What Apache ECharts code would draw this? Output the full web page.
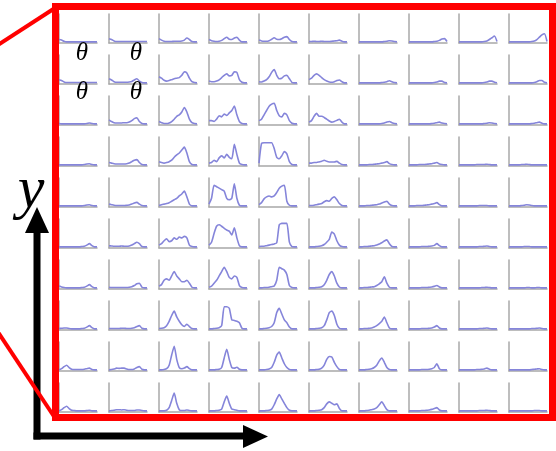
<!DOCTYPE html>
<html>
<head>
<meta charset="utf-8">
<script src="https://cdn.jsdelivr.net/npm/echarts@6.0.0/dist/echarts.min.js"></script>
<style>
  html, body { margin: 0; padding: 0; background: #fff; }
  #chart { width: 556px; height: 451px; }
</style>
</head>
<body>
<div id="chart"></div>
<script>
// theta bins shared by every small histogram
const bins = [0, 1, 2, 3, 4, 5, 6, 7, 8, 9, 10, 11, 12, 13, 14, 15]

// one array per grid row (top to bottom), ten cells per row (left to right)
const row1 = [
  [0.12,0.10,0.06,0.04,0.04,0.04,0.04,0.04,0.04,0.04,0.04,0.04,0.04,0.04,0.04,0.04],
  [0.15,0.12,0.07,0.05,0.05,0.05,0.05,0.05,0.05,0.05,0.05,0.05,0.05,0.05,0.05,0.05],
  [0.15,0.10,0.06,0.05,0.05,0.05,0.06,0.06,0.06,0.07,0.10,0.17,0.12,0.05,0.04,0.04],
  [0.12,0.08,0.06,0.05,0.06,0.09,0.15,0.20,0.13,0.12,0.17,0.20,0.10,0.04,0.04,0.04],
  [0.10,0.07,0.06,0.06,0.08,0.13,0.18,0.13,0.12,0.15,0.20,0.22,0.12,0.05,0.04,0.04],
  [0.05,0.05,0.06,0.05,0.05,0.06,0.05,0.05,0.05,0.06,0.07,0.08,0.10,0.06,0.04,0.04],
  [0.04,0.04,0.04,0.04,0.04,0.04,0.04,0.04,0.04,0.04,0.05,0.06,0.08,0.07,0.05,0.04],
  [0.04,0.04,0.04,0.04,0.04,0.04,0.04,0.04,0.04,0.04,0.05,0.06,0.09,0.14,0.15,0.05],
  [0.04,0.04,0.04,0.04,0.04,0.04,0.04,0.04,0.04,0.04,0.05,0.07,0.12,0.18,0.24,0.05],
  [0.04,0.04,0.04,0.04,0.04,0.04,0.04,0.04,0.04,0.05,0.07,0.12,0.20,0.28,0.32,0.05]
]
const row2 = [
  [0.15,0.12,0.07,0.05,0.05,0.05,0.05,0.05,0.05,0.05,0.05,0.05,0.05,0.05,0.05,0.05],
  [0.18,0.14,0.08,0.06,0.06,0.06,0.06,0.06,0.07,0.09,0.14,0.18,0.10,0.05,0.04,0.04],
  [0.25,0.20,0.13,0.10,0.12,0.15,0.18,0.20,0.22,0.30,0.42,0.38,0.20,0.08,0.05,0.04],
  [0.10,0.08,0.08,0.10,0.14,0.22,0.30,0.35,0.28,0.30,0.42,0.40,0.15,0.06,0.04,0.04],
  [0.08,0.07,0.10,0.15,0.25,0.40,0.50,0.30,0.18,0.20,0.28,0.30,0.18,0.06,0.04,0.04],
  [0.15,0.20,0.30,0.35,0.30,0.22,0.15,0.10,0.07,0.06,0.08,0.12,0.14,0.08,0.04,0.04],
  [0.04,0.04,0.04,0.04,0.04,0.04,0.04,0.04,0.04,0.05,0.06,0.08,0.11,0.08,0.05,0.04],
  [0.04,0.04,0.04,0.04,0.04,0.04,0.04,0.04,0.04,0.04,0.05,0.07,0.10,0.10,0.05,0.04],
  [0.04,0.04,0.04,0.04,0.04,0.04,0.04,0.04,0.04,0.04,0.05,0.07,0.10,0.10,0.06,0.04],
  [0.04,0.04,0.04,0.04,0.04,0.04,0.04,0.04,0.04,0.04,0.05,0.08,0.12,0.12,0.06,0.04]
]
const row3 = [
  [0.05,0.04,0.04,0.04,0.04,0.04,0.04,0.04,0.04,0.04,0.04,0.05,0.07,0.05,0.04,0.04],
  [0.18,0.12,0.08,0.07,0.07,0.07,0.08,0.08,0.10,0.15,0.22,0.25,0.12,0.05,0.04,0.04],
  [0.12,0.08,0.05,0.05,0.07,0.12,0.20,0.30,0.35,0.45,0.60,0.45,0.20,0.08,0.05,0.04],
  [0.15,0.15,0.12,0.20,0.32,0.28,0.38,0.33,0.42,0.50,0.65,0.35,0.12,0.05,0.04,0.04],
  [0.15,0.20,0.35,0.50,0.65,0.72,0.75,0.50,0.32,0.28,0.40,0.35,0.15,0.06,0.04,0.04],
  [0.10,0.15,0.30,0.40,0.30,0.30,0.26,0.20,0.14,0.10,0.12,0.16,0.20,0.10,0.04,0.04],
  [0.04,0.04,0.04,0.04,0.04,0.04,0.04,0.04,0.04,0.05,0.07,0.10,0.12,0.08,0.05,0.04],
  [0.04,0.04,0.04,0.04,0.04,0.04,0.04,0.04,0.04,0.05,0.06,0.08,0.10,0.07,0.05,0.04],
  [0.04,0.04,0.04,0.04,0.04,0.04,0.04,0.04,0.04,0.04,0.05,0.06,0.08,0.07,0.05,0.04],
  [0.04,0.04,0.04,0.04,0.04,0.04,0.04,0.04,0.04,0.05,0.06,0.08,0.10,0.06,0.04,0.04]
]
const row4 = [
  [0.04,0.04,0.04,0.04,0.04,0.04,0.04,0.04,0.04,0.04,0.05,0.07,0.08,0.05,0.04,0.04],
  [0.12,0.10,0.08,0.07,0.07,0.07,0.07,0.08,0.10,0.15,0.20,0.22,0.12,0.05,0.04,0.04],
  [0.15,0.12,0.10,0.12,0.15,0.20,0.30,0.38,0.45,0.55,0.65,0.45,0.15,0.05,0.04,0.04],
  [0.10,0.12,0.20,0.15,0.28,0.35,0.28,0.40,0.30,0.25,0.75,0.40,0.10,0.05,0.04,0.04],
  [0.10,0.78,0.80,0.80,0.80,0.80,0.60,0.30,0.25,0.35,0.50,0.42,0.15,0.05,0.04,0.04],
  [0.10,0.10,0.12,0.12,0.14,0.16,0.20,0.16,0.14,0.14,0.14,0.16,0.10,0.05,0.04,0.04],
  [0.04,0.04,0.04,0.04,0.05,0.05,0.06,0.07,0.08,0.10,0.12,0.15,0.08,0.05,0.04,0.04],
  [0.04,0.04,0.04,0.04,0.05,0.05,0.05,0.06,0.07,0.08,0.10,0.12,0.07,0.05,0.04,0.04],
  [0.04,0.04,0.04,0.04,0.04,0.04,0.04,0.05,0.05,0.05,0.05,0.06,0.05,0.04,0.04,0.04],
  [0.04,0.04,0.04,0.04,0.04,0.05,0.05,0.06,0.05,0.04,0.04,0.04,0.04,0.04,0.04,0.04]
]
const row5 = [
  [0.04,0.04,0.04,0.04,0.04,0.04,0.04,0.04,0.04,0.04,0.05,0.07,0.08,0.05,0.04,0.04],
  [0.10,0.08,0.06,0.05,0.05,0.05,0.05,0.06,0.07,0.10,0.14,0.16,0.10,0.05,0.04,0.04],
  [0.05,0.08,0.10,0.12,0.15,0.20,0.25,0.30,0.38,0.45,0.55,0.35,0.10,0.04,0.04,0.04],
  [0.10,0.30,0.75,0.70,0.65,0.60,0.55,0.30,0.25,0.30,0.80,0.30,0.06,0.04,0.04,0.04],
  [0.08,0.15,0.28,0.35,0.38,0.35,0.38,0.50,0.65,0.72,0.75,0.20,0.06,0.04,0.04,0.04],
  [0.05,0.05,0.06,0.08,0.10,0.12,0.18,0.22,0.20,0.30,0.35,0.25,0.12,0.05,0.04,0.04],
  [0.04,0.04,0.04,0.05,0.05,0.06,0.07,0.08,0.10,0.14,0.17,0.20,0.10,0.05,0.04,0.04],
  [0.04,0.04,0.04,0.05,0.05,0.05,0.06,0.07,0.08,0.10,0.12,0.15,0.08,0.04,0.04,0.04],
  [0.04,0.04,0.04,0.04,0.04,0.04,0.04,0.04,0.05,0.05,0.05,0.05,0.04,0.04,0.04,0.04],
  [0.04,0.04,0.04,0.04,0.04,0.05,0.06,0.08,0.07,0.05,0.04,0.04,0.04,0.04,0.04,0.04]
]
const row6 = [
  [0.04,0.04,0.04,0.04,0.04,0.04,0.04,0.04,0.04,0.05,0.06,0.10,0.15,0.08,0.04,0.04],
  [0.08,0.07,0.06,0.06,0.06,0.07,0.06,0.06,0.07,0.10,0.15,0.20,0.15,0.05,0.04,0.04],
  [0.10,0.15,0.25,0.32,0.22,0.25,0.35,0.30,0.38,0.35,0.40,0.35,0.10,0.05,0.04,0.04],
  [0.10,0.20,0.50,0.75,0.80,0.75,0.68,0.62,0.58,0.45,0.70,0.35,0.08,0.04,0.04,0.04],
  [0.05,0.06,0.06,0.08,0.10,0.12,0.14,0.18,0.80,0.85,0.85,0.85,0.20,0.05,0.04,0.04],
  [0.04,0.04,0.04,0.05,0.06,0.08,0.12,0.20,0.30,0.55,0.48,0.25,0.10,0.05,0.04,0.04],
  [0.04,0.04,0.05,0.05,0.06,0.07,0.08,0.10,0.14,0.18,0.24,0.28,0.15,0.05,0.04,0.04],
  [0.04,0.04,0.04,0.04,0.04,0.05,0.05,0.05,0.06,0.07,0.09,0.15,0.08,0.04,0.04,0.04],
  [0.04,0.04,0.04,0.04,0.04,0.04,0.04,0.04,0.05,0.05,0.06,0.07,0.05,0.04,0.04,0.04],
  [0.04,0.04,0.04,0.04,0.04,0.04,0.05,0.05,0.05,0.04,0.04,0.04,0.04,0.04,0.04,0.04]
]
const row7 = [
  [0.10,0.07,0.05,0.04,0.04,0.04,0.04,0.04,0.04,0.05,0.06,0.10,0.15,0.08,0.04,0.04],
  [0.06,0.05,0.05,0.05,0.05,0.05,0.05,0.05,0.06,0.08,0.12,0.18,0.20,0.06,0.04,0.04],
  [0.10,0.15,0.30,0.35,0.30,0.45,0.60,0.45,0.35,0.25,0.25,0.30,0.20,0.06,0.04,0.04],
  [0.06,0.10,0.20,0.30,0.45,0.60,0.75,0.60,0.40,0.35,0.45,0.40,0.12,0.05,0.04,0.04],
  [0.04,0.04,0.05,0.05,0.06,0.08,0.10,0.30,0.75,0.70,0.65,0.50,0.12,0.05,0.04,0.04],
  [0.04,0.04,0.04,0.05,0.06,0.08,0.15,0.30,0.50,0.60,0.45,0.20,0.07,0.04,0.04,0.04],
  [0.04,0.04,0.05,0.05,0.06,0.07,0.08,0.12,0.18,0.25,0.42,0.20,0.06,0.04,0.04,0.04],
  [0.04,0.04,0.04,0.04,0.04,0.05,0.05,0.05,0.06,0.07,0.09,0.12,0.07,0.04,0.04,0.04],
  [0.04,0.04,0.04,0.04,0.04,0.04,0.04,0.04,0.04,0.05,0.05,0.06,0.05,0.04,0.04,0.04],
  [0.04,0.04,0.04,0.04,0.04,0.04,0.04,0.05,0.05,0.04,0.04,0.05,0.05,0.04,0.04,0.04]
]
const row8 = [
  [0.05,0.06,0.07,0.07,0.05,0.04,0.04,0.04,0.04,0.05,0.06,0.10,0.15,0.08,0.04,0.04],
  [0.05,0.05,0.05,0.05,0.05,0.06,0.06,0.05,0.05,0.06,0.08,0.12,0.15,0.06,0.04,0.04],
  [0.05,0.06,0.08,0.15,0.30,0.50,0.65,0.45,0.30,0.18,0.12,0.20,0.12,0.05,0.04,0.04],
  [0.04,0.04,0.05,0.06,0.08,0.15,0.80,0.80,0.75,0.35,0.33,0.30,0.25,0.06,0.04,0.04],
  [0.04,0.04,0.05,0.06,0.08,0.12,0.25,0.60,0.75,0.55,0.35,0.25,0.10,0.04,0.04,0.04],
  [0.04,0.04,0.04,0.05,0.06,0.08,0.15,0.35,0.60,0.65,0.50,0.20,0.06,0.04,0.04,0.04],
  [0.04,0.04,0.05,0.05,0.06,0.07,0.10,0.15,0.22,0.30,0.45,0.25,0.07,0.04,0.04,0.04],
  [0.04,0.04,0.04,0.04,0.04,0.05,0.05,0.05,0.06,0.07,0.10,0.15,0.07,0.04,0.04,0.04],
  [0.04,0.04,0.04,0.04,0.04,0.04,0.04,0.04,0.05,0.05,0.06,0.07,0.05,0.04,0.04,0.04],
  [0.04,0.04,0.04,0.04,0.04,0.04,0.04,0.04,0.04,0.05,0.05,0.06,0.07,0.05,0.04,0.04]
]
const row9 = [
  [0.04,0.08,0.15,0.20,0.12,0.06,0.05,0.05,0.05,0.05,0.06,0.08,0.10,0.05,0.04,0.04],
  [0.04,0.05,0.07,0.10,0.09,0.10,0.10,0.07,0.05,0.05,0.07,0.12,0.15,0.06,0.04,0.04],
  [0.04,0.04,0.05,0.08,0.20,0.55,0.85,0.40,0.12,0.08,0.10,0.15,0.08,0.04,0.04,0.04],
  [0.04,0.04,0.04,0.05,0.06,0.12,0.45,0.75,0.40,0.12,0.10,0.13,0.06,0.04,0.04,0.04],
  [0.04,0.04,0.04,0.05,0.07,0.12,0.30,0.55,0.65,0.45,0.25,0.12,0.05,0.04,0.04,0.04],
  [0.04,0.04,0.04,0.05,0.06,0.10,0.20,0.40,0.50,0.48,0.30,0.15,0.05,0.04,0.04,0.04],
  [0.04,0.04,0.04,0.05,0.06,0.08,0.12,0.20,0.35,0.45,0.30,0.12,0.05,0.04,0.04,0.04],
  [0.04,0.04,0.04,0.04,0.04,0.05,0.05,0.05,0.06,0.08,0.12,0.25,0.08,0.04,0.04,0.04],
  [0.04,0.04,0.04,0.04,0.04,0.04,0.04,0.05,0.05,0.06,0.07,0.10,0.06,0.04,0.04,0.04],
  [0.04,0.04,0.04,0.04,0.04,0.04,0.04,0.04,0.04,0.05,0.06,0.07,0.08,0.05,0.04,0.04]
]
const row10 = [
  [0.04,0.08,0.15,0.20,0.12,0.06,0.05,0.04,0.04,0.04,0.04,0.05,0.06,0.04,0.04,0.04],
  [0.04,0.05,0.06,0.08,0.08,0.07,0.08,0.06,0.05,0.05,0.05,0.07,0.07,0.05,0.04,0.04],
  [0.04,0.04,0.04,0.06,0.15,0.40,0.65,0.30,0.08,0.05,0.05,0.07,0.05,0.04,0.04,0.04],
  [0.04,0.04,0.04,0.05,0.06,0.10,0.35,0.55,0.30,0.10,0.08,0.06,0.04,0.04,0.04,0.04],
  [0.04,0.04,0.04,0.05,0.06,0.10,0.25,0.45,0.60,0.45,0.30,0.15,0.06,0.04,0.04,0.04],
  [0.04,0.04,0.04,0.05,0.06,0.08,0.15,0.28,0.35,0.30,0.25,0.28,0.12,0.04,0.04,0.04],
  [0.04,0.04,0.04,0.05,0.06,0.08,0.10,0.15,0.25,0.35,0.22,0.08,0.04,0.04,0.04,0.04],
  [0.04,0.04,0.04,0.04,0.04,0.05,0.05,0.06,0.07,0.09,0.12,0.15,0.07,0.04,0.04,0.04],
  [0.04,0.04,0.04,0.04,0.04,0.04,0.04,0.04,0.05,0.05,0.05,0.06,0.05,0.04,0.04,0.04],
  [0.04,0.04,0.04,0.04,0.04,0.04,0.04,0.04,0.04,0.04,0.05,0.05,0.05,0.04,0.04,0.04]
]

const rows = [row1, row2, row3, row4, row5, row6, row7, row8, row9, row10]

const AXIS_COLOR = '#a8a8a8'
const LINE_COLOR = '#8585da'
const SERIF = '"Liberation Serif", "Times New Roman", serif'

const grid = []
const xAxis = []
const yAxis = []
const series = []

rows.forEach((row, r) => {
  row.forEach((values, c) => {
    const i = grid.length
    grid.push({ left: 59 + 50 * c, top: 14 + 41 * r, width: 38, height: 29 })
    xAxis.push({
      gridIndex: i,
      type: 'category',
      data: bins,
      boundaryGap: false,
      axisLine: { show: true, lineStyle: { color: AXIS_COLOR, width: 1.5 } },
      axisTick: { show: false },
      axisLabel: { show: false },
      splitLine: { show: false }
    })
    yAxis.push({
      gridIndex: i,
      type: 'value',
      min: 0,
      max: 1,
      axisLine: { show: true, lineStyle: { color: AXIS_COLOR, width: 1.5 } },
      axisTick: { show: false },
      axisLabel: { show: false },
      splitLine: { show: false }
    })
    series.push({
      type: 'line',
      xAxisIndex: i,
      yAxisIndex: i,
      data: values,
      showSymbol: false,
      silent: true,
      smooth: 0.2,
      lineStyle: { color: LINE_COLOR, width: 1.6 }
    })
  })
})

function label (text, x, y, size) {
  return {
    type: 'text',
    z: 110,
    x,
    y,
    style: {
      text,
      fontStyle: 'italic',
      fontSize: size,
      fontFamily: SERIF,
      fill: '#000',
      textAlign: 'center',
      textVerticalAlign: 'middle'
    }
  }
}

const red = '#ff0000'
const graphic = [
  // zoom-in connector lines
  { type: 'line', z: 90, shape: { x1: -2, y1: 45, x2: 55, y2: 8 }, style: { stroke: red, lineWidth: 4 } },
  { type: 'line', z: 90, shape: { x1: -2, y1: 332, x2: 55, y2: 418 }, style: { stroke: red, lineWidth: 4 } },
  // frame round the grid
  { type: 'rect', z: 100, shape: { x: 55.5, y: 6.5, width: 497, height: 411 }, style: { fill: 'none', stroke: red, lineWidth: 7 } },
  // black axes arrows
  { type: 'line', z: 80, shape: { x1: 37, y1: 228, x2: 37, y2: 439.5 }, style: { stroke: '#000', lineWidth: 7 } },
  { type: 'line', z: 80, shape: { x1: 33.5, y1: 436, x2: 246, y2: 436 }, style: { stroke: '#000', lineWidth: 7 } },
  { type: 'polygon', z: 80, shape: { points: [[37, 207], [25, 233], [49, 233]] }, style: { fill: '#000' } },
  { type: 'polygon', z: 80, shape: { points: [[268, 436.5], [243, 425], [243, 448]] }, style: { fill: '#000' } },
  label('y', 31, 191, 60),
  label('θ', 82, 53, 25),
  label('θ', 136, 53, 25),
  label('θ', 82, 92, 25),
  label('θ', 136, 92, 25)
]

const myChart = echarts.init(document.getElementById('chart'))
myChart.setOption({
  animation: false,
  backgroundColor: '#fff',
  grid,
  xAxis,
  yAxis,
  series,
  graphic
})
</script>
</body>
</html>
